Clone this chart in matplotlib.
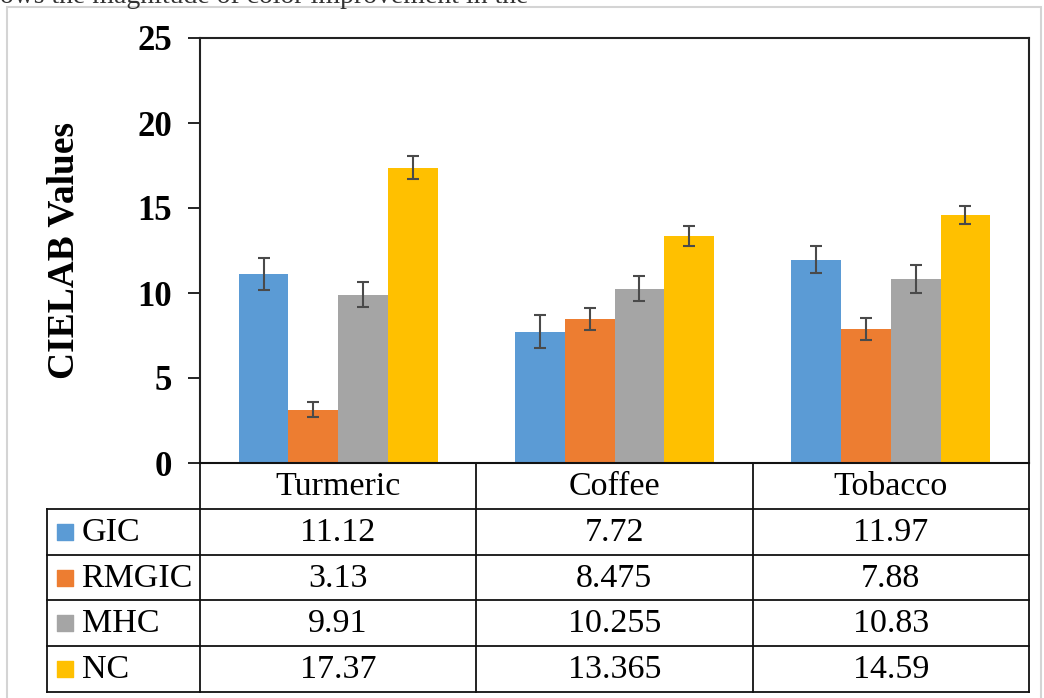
import matplotlib
matplotlib.use('Agg')
import matplotlib.pyplot as plt
from matplotlib.patches import Rectangle

plt.rcParams['font.family'] = ['Liberation Serif', 'DejaVu Serif']

# data
categories = ['Turmeric', 'Coffee', 'Tobacco']
groups = ['GIC', 'RMGIC', 'MHC', 'NC']
values = {
    'GIC': [11.12, 7.72, 11.97],
    'RMGIC': [3.13, 8.475, 7.88],
    'MHC': [9.91, 10.255, 10.83],
    'NC': [17.37, 13.365, 14.59],
}
# table text as printed
table_text = {
    'GIC': ['11.12', '7.72', '11.97'],
    'RMGIC': ['3.13', '8.475', '7.88'],
    'MHC': ['9.91', '10.255', '10.83'],
    'NC': ['17.37', '13.365', '14.59'],
}
errors = {
    'GIC': [0.92, 0.96, 0.81],
    'RMGIC': [0.44, 0.65, 0.67],
    'MHC': [0.75, 0.75, 0.81],
    'NC': [0.66, 0.60, 0.54],
}
colors = ['#5B9BD5', '#ED7D31', '#A5A5A5', '#FFC000']
yticks = [0, 5, 10, 15, 20, 25]

W, H = 1044, 698
fig = plt.figure(figsize=(W / 100, H / 100), dpi=100)

# light outer frame
fig.patches.append(Rectangle((7 / W, -0.01), (1041 - 7) / W, (H - 7) / H + 0.01,
                             transform=fig.transFigure, fill=False,
                             edgecolor='#d4d4d4', linewidth=1.5))

# clipped caption line at the very top (cut off in the source image too)
fig.text(0.0, (H - 3) / H, 'ows the magnitude of color improvement in the',
         fontsize=20, va='baseline', ha='left', color='#333333')

# main bar axes
ax = fig.add_axes([200 / W, (H - 463) / H, (1029 - 200) / W, (463 - 38) / H])
bw = 0.18
for k, g in enumerate(groups):
    xs = [i + 0.5 + (k - 1.5) * bw for i in range(len(categories))]
    ax.bar(xs, values[g], width=bw, color=colors[k], zorder=2)
    ax.errorbar(xs, values[g], yerr=errors[g], fmt='none', ecolor='#4a4a4a',
                elinewidth=1.5, capsize=4.5, capthick=1.5, zorder=3)

ax.set_xlim(0, 3)
ax.set_ylim(0, 25)
ax.set_yticks(yticks)
ax.set_yticklabels([str(t) for t in yticks], fontsize=25, fontweight='bold')
ax.set_xticks([])
ax.tick_params(axis='y', length=9, width=1.2, pad=11)
for s in ax.spines.values():
    s.set_linewidth(1.5)
    s.set_color('#222222')
ax.set_ylabel('CIELAB Values', fontsize=27, fontweight='bold', labelpad=40)

# data table below the axes
tax = fig.add_axes([47 / W, (H - 692) / H, (1029 - 47) / W, (692 - 463) / H])
lc = -153 / 277
tax.set_xlim(lc, 3)
tax.set_ylim(5, 0)
tax.axis('off')
lw = 1.3
tcol = '#111111'
tax.plot([0, 3], [0, 0], color=tcol, lw=lw, clip_on=False)
for r in range(1, 6):
    tax.plot([lc, 3], [r, r], color=tcol, lw=lw, clip_on=False)
tax.plot([lc, lc], [1, 5], color=tcol, lw=lw, clip_on=False)
for c in range(4):
    tax.plot([c, c], [0, 5], color=tcol, lw=lw, clip_on=False)

for i, cat in enumerate(categories):
    tax.text(i + 0.5, 0.52, cat, ha='center', va='center', fontsize=24.5)
for k, g in enumerate(groups):
    yc = k + 1.52
    tax.scatter([lc + 0.065], [k + 1.5], marker='s', s=130, color=colors[k],
                clip_on=False)
    tax.text(lc + 0.125, yc, g, ha='left', va='center', fontsize=24.5)
    for i in range(len(categories)):
        tax.text(i + 0.5, yc, table_text[g][i], ha='center', va='center',
                 fontsize=24.5)

fig.savefig('out.png', dpi=100)
